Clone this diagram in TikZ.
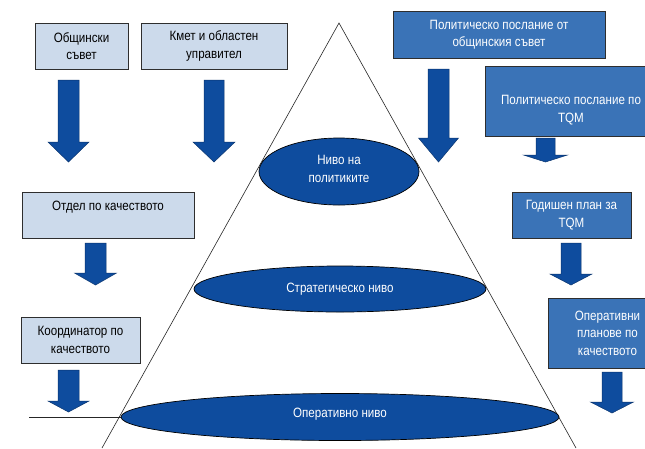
\documentclass[tikz,border=0pt]{standalone}
\usepackage{fontspec}
\setmainfont{Liberation Sans}[FakeStretch=0.86]
\usetikzlibrary{shapes.geometric}
\definecolor{lightbox}{HTML}{CCDAEB}
\definecolor{darkblue}{HTML}{0E4C9E}
\definecolor{midbox}{HTML}{3A73B7}
\definecolor{boxline}{HTML}{2E2E2E}
\tikzset{
  lbox/.style={draw=boxline, fill=lightbox, line width=0.7pt, inner sep=0pt, align=center},
  dbox/.style={draw=boxline, fill=midbox, line width=0.7pt, inner sep=0pt, align=center, text=white},
  lvl/.style={ellipse, draw=black, fill=darkblue, line width=0.7pt, inner sep=0pt, align=center, text=white},
  txt/.style={inner sep=0pt, align=center},
  thinline/.style={draw=black!85, line width=0.6pt},
  barrow/.style={fill=darkblue, draw=darkblue!70!black, line width=0.5pt, line join=miter},
}
% \blockarrow{cx}{top}{shaft half}{head half}{head y}{tip y}
\newcommand{\blockarrow}[6]{%
  \path[barrow] (#1-#3,#2) -- (#1+#3,#2) -- (#1+#3,#5) -- (#1+#4,#5) -- (#1,#6)
    -- (#1-#4,#5) -- (#1-#3,#5) -- cycle;}
\begin{document}
\begin{tikzpicture}[x=1pt,y=-1pt,font=\fontsize{13.5}{17.5}\selectfont]
\clip (0,0) rectangle (645,448);
\fill[white] (0,0) rectangle (645,448);

% pyramid
\coordinate (apex) at (339,23);
\coordinate (pl) at (102,448);
\coordinate (pr) at (576,448);
\draw[thinline] (pl) -- (apex) -- (pr);

% level ellipses
\node[lvl, minimum width=160pt, minimum height=67pt] (e1) at (339,171.5) {};
\node[txt, text=white] (e1t) at (339,169) {Ниво на\\политиките};
\node[lvl, minimum width=292pt, minimum height=46pt] (e2) at (340,289) {Стратегическо ниво};
\node[lvl, minimum width=438pt, minimum height=47pt] (e3) at (340,417) {};
\node[txt, text=white] (e3t) at (340,414) {Оперативно ниво};

\coordinate (hl) at (29,417);
\draw[thinline] (hl) -- (e3.west);

% left boxes
\node[lbox, minimum width=93pt, minimum height=46pt] (obs) at (81.5,46) {Общински\\съвет};
\node[lbox, minimum width=146pt, minimum height=46pt] (kmet) at (214,46) {Кмет и областен\\управител};
\node[lbox, minimum width=172pt, minimum height=46pt] (otdel) at (108,215) {};
\node[txt] (otdelt) at (108,207) {Отдел по качеството};
\node[lbox, minimum width=119pt, minimum height=46pt] (koord) at (80.5,340) {Координатор по\\качеството};

% right boxes
\node[dbox, minimum width=212pt, minimum height=47pt] (polob) at (499,34.5) {Политическо послание от\\общинския съвет};
\node[dbox, minimum width=175pt, minimum height=70pt] (poltqm) at (572.5,101) {};
\node[txt, text=white] (poltqmt) at (571,110) {Политическо послание по\\TQM};
\node[dbox, minimum width=119pt, minimum height=46pt] (godplan) at (571.5,215) {Годишен план за\\TQM};
\node[dbox, minimum width=119pt, minimum height=70pt] (operpl) at (607.5,333) {Оперативни\\планове по\\качеството};

% block arrows
\blockarrow{68.5}{80}{10.5}{20.5}{142}{162}
\blockarrow{214}{80}{10}{21}{142}{162}
\blockarrow{95.5}{243}{10.5}{21}{273}{285}
\blockarrow{68.5}{370}{10.5}{20.5}{401}{412}
\blockarrow{438.5}{69}{10.5}{20}{138}{162}
\blockarrow{545.5}{138}{9.5}{22}{155}{162}
\blockarrow{571}{243}{10}{21}{274}{285}
\blockarrow{612}{372}{10}{21.5}{402}{413}
\end{tikzpicture}
\end{document}
